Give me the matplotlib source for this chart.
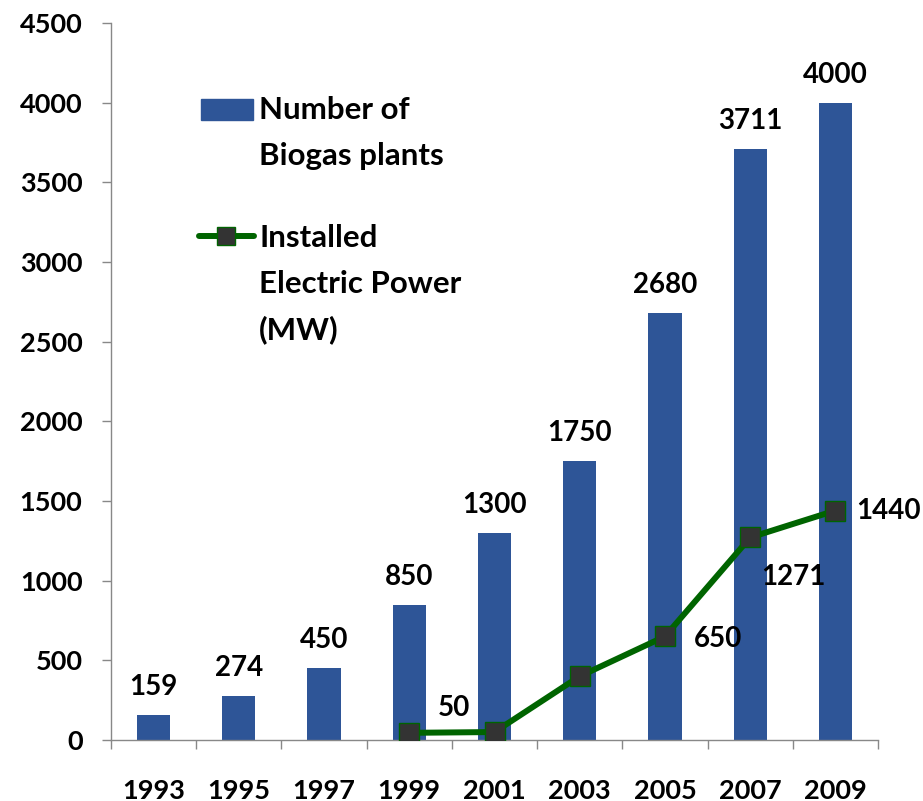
import matplotlib.pyplot as plt
from matplotlib import font_manager
from matplotlib.lines import Line2D
from matplotlib.patches import Rectangle
import numpy as np

# pick the first humanist family that really has a bold face installed
candidates = ['Lato', 'Open Sans', 'Noto Sans', 'Roboto', 'Liberation Sans', 'DejaVu Sans']
bold_families = {f.name for f in font_manager.fontManager.ttflist
                 if (f.weight if isinstance(f.weight, int) else 400) >= 600
                 or str(f.weight) in ('bold', 'heavy', 'extra bold', 'black')}
family = next((c for c in candidates if c in bold_families), 'DejaVu Sans')
plt.rcParams['font.family'] = [family, 'DejaVu Sans']
plt.rcParams['font.weight'] = 'bold'

years = ['1993', '1995', '1997', '1999', '2001', '2003', '2005', '2007', '2009']
plants = [159, 274, 450, 850, 1300, 1750, 2680, 3711, 4000]
power_years = ['1999', '2001', '2003', '2005', '2007', '2009']
power = [45, 50, 400, 650, 1271, 1440]
power_labels = ['', '50', '', '650', '1271', '1440']

BAR = '#2E5597'
GREEN = '#006400'
GREY = '#888888'
PX = 0.72  # points per pixel at dpi 100
W, H = 923, 801

fig = plt.figure(figsize=(W / 100, H / 100), dpi=100)
ax = fig.add_axes([111 / W, 61 / H, (878 - 111) / W, (740 - 23) / H])

x = np.arange(len(years))
ax.bar(x, plants, width=0.39, color=BAR, zorder=2)
for xi, v in zip(x, plants):
    ax.annotate(str(v), (xi, v), xytext=(0, 20 * PX), textcoords='offset points',
                ha='center', va='baseline', fontsize=20, fontweight='bold')

px = [years.index(y) for y in power_years]
ax.plot(px, power, color=GREEN, lw=4.3, marker='s', ms=14, mfc='#333333', mec=GREEN,
        mew=1.0, zorder=3)

offsets = {'50': (-41, 24, 'center', 'center'), '650': (29, -3, 'left', 'center'),
           '1271': (11, -40, 'left', 'center'), '1440': (21, 0, 'left', 'center')}
for xi, v, lab in zip(px, power, power_labels):
    if not lab:
        continue
    dx, dy, ha, va = offsets[lab]
    ax.annotate(lab, (xi, v), xytext=(dx * PX, dy * PX), textcoords='offset points',
                ha=ha, va=va, fontsize=20, fontweight='bold')

ax.set_xlim(-0.5, len(years) - 0.5)
ax.set_ylim(0, 4500)
ax.set_yticks(np.arange(0, 4501, 500))
ax.set_xticks(x)
ax.set_xticklabels(years)
ax.set_xticks(np.arange(-0.5, len(years), 1), minor=True)
ax.tick_params(axis='x', which='major', length=0, pad=28, labelsize=19.5)
ax.tick_params(axis='x', which='minor', length=6.5, color=GREY, width=1.0)
ax.tick_params(axis='y', length=6.5, color=GREY, width=1.0, labelsize=19.5, pad=14)
for t in ax.get_xticklabels() + ax.get_yticklabels():
    t.set_fontweight('bold')

for s in ['top', 'right']:
    ax.spines[s].set_visible(False)
for s in ['left', 'bottom']:
    ax.spines[s].set_color(GREY)
    ax.spines[s].set_linewidth(1.0)

# legend, drawn by hand so the keys sit on the first text line
def fx(p):
    return p / W

def fy(p):
    return 1 - p / H

fig.add_artist(Rectangle((fx(201), fy(120)), fx(52), 21 / H, color=BAR,
                         transform=fig.transFigure))
fig.add_artist(Line2D([fx(199), fx(254)], [fy(236), fy(236)], color=GREEN, lw=4.3,
                      solid_capstyle='round', transform=fig.transFigure))
fig.add_artist(Line2D([fx(226)], [fy(236)], marker='s', ms=13, mfc='#333333', mec=GREEN,
                      mew=1.0, transform=fig.transFigure))
legend_lines = [('Number of', 119), ('Biogas plants', 165),
                ('Installed', 247), ('Electric Power', 293), ('(MW)', 339)]
for txt, base in legend_lines:
    fig.text(fx(259), fy(base), txt, ha='left', va='baseline', fontsize=22.5,
             fontweight='bold')

fig.savefig('out.png', dpi=100)
